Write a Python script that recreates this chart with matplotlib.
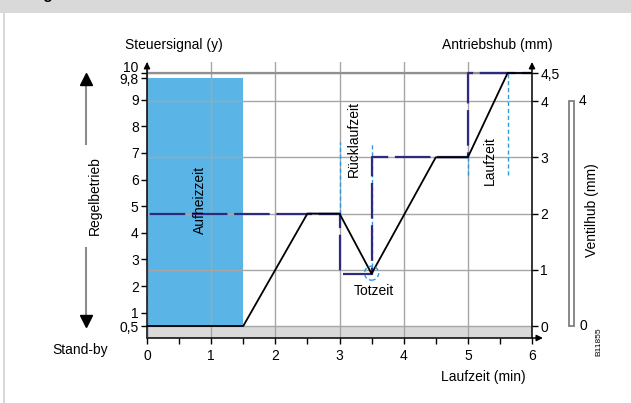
import matplotlib
matplotlib.use('Agg')
import matplotlib.pyplot as plt
import matplotlib.transforms as mtransforms
from matplotlib.patches import Rectangle, Ellipse
from matplotlib.lines import Line2D
import numpy as np

plt.rcParams['font.family'] = ['Liberation Sans', 'DejaVu Sans']

# ---------------------------------------------------------------- data
# time axis (min)
x_ticks = [0, 1, 2, 3, 4, 5, 6]
x_minor = [0.5, 1.5, 2.5, 3.5, 4.5, 5.5]

# Antriebshub (mm), right axis
hub_ticks = [0, 1, 2, 3, 4, 4.5]
hub_labels = ['0', '1', '2', '3', '4', '4,5']

# Steuersignal (y), left axis
sig_ticks = [0.5, 1, 2, 3, 4, 5, 6, 7, 8, 9, 9.8, 10]
sig_labels = ['0,5', '1', '2', '3', '4', '5', '6', '7', '8', '9', '9,8', '10\n']

# Ventilhub (mm)
vent_range = [0, 4]

# heating time block
heat_end = 1.5
heat_sig = 9.8

# actuator stroke (black line), mm
stroke_t = [0, 1.5, 2.5, 3.0, 3.5, 4.5, 5.0, 5.62, 6.0]
stroke_mm = [0, 0, 2.0, 2.0, 0.93, 3.0, 3.0, 4.5, 4.5]

# control signal step (dashed), in mm of the right scale
ctrl_t = [0, 0, 3.0, 3.0, 3.5, 3.5, 5.0, 5.0, 6.0]
ctrl_mm = [-0.21, 2.0, 2.0, 0.93, 0.93, 3.0, 3.0, 4.5, 4.5]

# light blue marker lines (t, mm from, mm to)
mark_t = [3.0, 3.5, 5.0, 5.62]
mark_lo = [2.0, 0.93, 2.69, 2.69]
mark_hi = [3.27, 3.27, 3.0, 4.5]
dead_t, dead_mm = 3.5, 0.94


def s2mm(s):
    return (np.asarray(s) - 0.5) * 4.5 / 9.5


def mm2s(m):
    return np.asarray(m) * 9.5 / 4.5 + 0.5


W, H = 631, 403


def px(x, y):
    return x / W, 1 - y / H


navy = '#2e2a7e'
lblue = '#2f9ae0'
heat = '#5ab4e6'
gridc = '#a6a6a6'

fig = plt.figure(figsize=(W / 100, H / 100), dpi=100)

# header band and left border
fig.add_artist(Rectangle((0, 1 - 13 / H), 1, 13 / H, transform=fig.transFigure,
                         color='#d9d9d9', lw=0))
fig.add_artist(Line2D([3.5 / W, 3.5 / W], [0, 1 - 13 / H], transform=fig.transFigure,
                      color='#d9d9d9', lw=1.5))
fig.text(12 / W, 1 + 1.5 / H, 'Stellgrößenverlauf', fontsize=11, fontweight='bold',
         va='baseline', ha='left')

ybot = -0.2134
ytop = 4.696
ax = fig.add_axes([147 / W, (H - 338) / H, 385 / W, (338 - 62) / H])
ax.set_xlim(0, 6)
ax.set_ylim(ybot, ytop)
for s in ax.spines.values():
    s.set_visible(False)

# background band and heating block
ax.axhspan(ybot, 0, color='#d9d9d9', lw=0, zorder=0.2)
ax.add_patch(Rectangle((0, 0), heat_end, float(s2mm(heat_sig)), color=heat, lw=0, zorder=0.3))

# grid
ax.set_axisbelow(True)
ax.set_xticks(x_ticks)
ax.set_xticks(x_minor, minor=True)
ax.set_yticks(hub_ticks)
ax.set_yticklabels(hub_labels)
ax.grid(True, which='major', color=gridc, lw=1.0)
ax.axhline(4.5, color='#909090', lw=1.6, zorder=0.6)

ax.yaxis.tick_right()
ax.tick_params(axis='both', which='both', direction='out', length=4, width=1,
               labelsize=10, color='k', pad=2)
ax.tick_params(axis='x', pad=4)

sec = ax.secondary_yaxis('left', functions=(mm2s, s2mm))
sec.set_yticks(sig_ticks)
sec.set_yticklabels(sig_labels)
sec.tick_params(direction='out', length=4, width=1, labelsize=10, pad=2)
for s in sec.spines.values():
    s.set_visible(False)

# axis lines with arrows
arr = dict(arrowstyle='-|>', color='k', lw=1.1, mutation_scale=9, shrinkA=0, shrinkB=0)
ax.annotate('', xy=(6.17, ybot), xytext=(0, ybot), arrowprops=arr, annotation_clip=False)
ax.annotate('', xy=(0, ytop), xytext=(0, ybot), arrowprops=arr, annotation_clip=False)
ax.annotate('', xy=(6, ytop), xytext=(6, ybot), arrowprops=arr, annotation_clip=False)

# curves
for t, lo, hi in zip(mark_t, mark_lo, mark_hi):
    ax.plot([t, t], [lo, hi], color=lblue, lw=1.0, dashes=(3, 2), zorder=2)
ax.plot(ctrl_t, ctrl_mm, color=navy, lw=1.6, dashes=(16, 3), zorder=3, clip_on=True)
ax.plot(stroke_t, stroke_mm, color='k', lw=1.3, zorder=4)
ax.add_patch(Ellipse((dead_t, dead_mm), 0.22, 0.25, fill=False, ec=lblue, lw=1.0,
                     ls=(0, (3, 2)), zorder=5))

# annotations in the plot
ax.text(0.82, 2.24, 'Aufheizzeit', rotation=90, ha='center', va='center', fontsize=10)
ax.text(3.23, 3.33, 'Rücklaufzeit', rotation=90, ha='center', va='center', fontsize=10)
ax.text(3.53, 0.62, 'Totzeit', ha='center', va='center', fontsize=10)
ax.text(5.35, 2.95, 'Laufzeit', rotation=90, ha='center', va='center', fontsize=10)

# outer labels
fig.text(*px(174, 45), 'Steuersignal (y)', ha='center', va='center', fontsize=10)
fig.text(*px(497, 45), 'Antriebshub (mm)', ha='center', va='center', fontsize=10)
fig.text(*px(483, 377), 'Laufzeit (min)', ha='center', va='center', fontsize=10)
fig.text(*px(80, 350), 'Stand-by', ha='center', va='center', fontsize=10)
fig.text(*px(95, 196), 'Regelbetrieb', rotation=90, ha='center', va='center', fontsize=10)

# Regelbetrieb double arrow (shaft interrupted behind the label)
for y0, y1 in [(78, 144), (248, 322)]:
    fig.add_artist(Line2D([86 / W, 86 / W], [1 - y0 / H, 1 - y1 / H],
                          transform=fig.transFigure, color='#8c8c8c', lw=1.5))
fig.add_artist(Line2D([86 / W], [1 - 79 / H], transform=fig.transFigure, marker='^',
                      ms=8, color='k', lw=0))
fig.add_artist(Line2D([86 / W], [1 - 321 / H], transform=fig.transFigure, marker='v',
                      ms=8, color='k', lw=0))

# Ventilhub bar
bt = mtransforms.blended_transform_factory(fig.transFigure, ax.transData)
ax.add_patch(Rectangle((569 / W, vent_range[0]), 5 / W, vent_range[1] - vent_range[0],
                       transform=bt, fill=False, ec='#808080', lw=1.3, clip_on=False))
for v in vent_range:
    ax.text(579 / W, v, str(v), transform=bt, ha='left', va='center', fontsize=10,
            clip_on=False)
fig.text(*px(592, 210), 'Ventilhub (mm)', rotation=90, ha='center', va='center', fontsize=10)
fig.text(*px(599, 342), 'B11855', rotation=90, ha='center', va='center', fontsize=6)

fig.savefig('out.png', dpi=100)
